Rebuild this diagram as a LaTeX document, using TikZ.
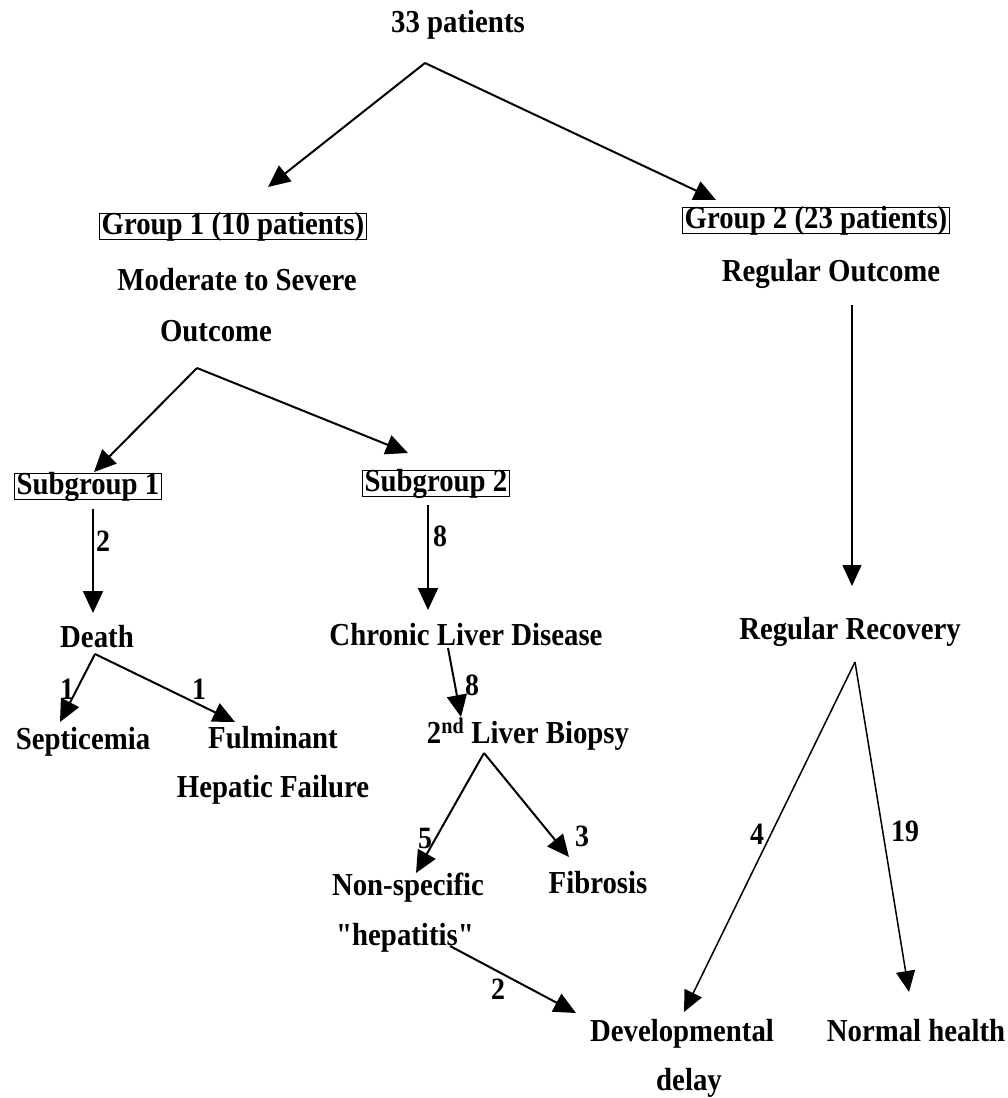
\documentclass[tikz,border=0pt]{standalone}
\usepackage{fontspec}
\setmainfont{Liberation Serif}[FakeStretch=0.9, Ligatures=TeXOff]
\usetikzlibrary{arrows.meta}
\begin{document}
\begin{tikzpicture}[x=1pt,y=-1pt,
  txt/.style={font=\fontsize{32}{34}\selectfont\bfseries, inner sep=0pt, anchor=base},
  boxed/.style={txt, draw, line width=1pt, inner xsep=2pt, inner ysep=1pt, text height=20pt, text depth=4pt, anchor=center},
  lbl/.style={font=\fontsize{31}{33}\selectfont\bfseries, inner sep=0pt},
  conn/.style={line width=2pt, -{Triangle[length=22pt,width=20pt]}},
  thin/.style={line width=1.5pt, -{Triangle[length=21pt,width=19pt]}}]
\useasboundingbox (0,0) rectangle (1007,1098);
% nodes
\node[txt] (top) at (458,32) {33 patients};
\node[boxed] (g1) at (233,226) {Group 1 (10 patients)};
\node[boxed] (g2) at (816,220) {Group 2 (23 patients)};
\node[txt] (mod) at (237,290) {Moderate to Severe};
\node[txt] (out1) at (216,341) {Outcome};
\node[txt] (reg) at (831,281) {Regular Outcome};
\node[boxed] (s1) at (88,486) {Subgroup 1};
\node[boxed] (s2) at (436,483) {Subgroup 2};
\node[txt] (death) at (97,647) {Death};
\node[txt] (cld) at (466,645) {Chronic Liver Disease};
\node[txt] (rr) at (850,639) {Regular Recovery};
\node[txt] (sep) at (83,749) {Septicemia};
\node[txt] (ful) at (273,748) {Fulminant};
\node[txt] (hep) at (273,797) {Hepatic Failure};
\node[txt] (bio) at (528,743) {2\textsuperscript{nd} Liver Biopsy};
\node[txt] (ns) at (408,895) {Non-specific};
\node[txt] (hepa) at (405,945) {"hepatitis"};
\node[txt] (fib) at (598,893) {Fibrosis};
\node[txt] (dev) at (682,1041) {Developmental};
\node[txt] (del) at (689,1090) {delay};
\node[txt] (nh) at (916,1041) {Normal health};
% coordinates
\coordinate (a0) at (425,63);
\coordinate (t1) at (268,187);
\coordinate (t2) at (716,200);
\coordinate (r0) at (852,305);
\coordinate (r1) at (852,586);
\coordinate (a1) at (197,368);
\coordinate (t3) at (94,472);
\coordinate (t4) at (408,453);
\coordinate (s1b) at (93,509);
\coordinate (t5) at (93,613);
\coordinate (s2b) at (428,505);
\coordinate (t6) at (428,610);
\coordinate (a2) at (95,654);
\coordinate (t7) at (60,722);
\coordinate (t8) at (235,722);
\coordinate (c0) at (448,648);
\coordinate (t9) at (461,717);
\coordinate (a3) at (484,753);
\coordinate (t10) at (416,873);
\coordinate (t11) at (569,857);
\coordinate (h0) at (450,946);
\coordinate (t12) at (576,1013);
\coordinate (a4) at (855,662);
\coordinate (t13) at (684,1012);
\coordinate (t14) at (909,992);
% connectors
\draw[conn] (a0) -- (t1);
\draw[conn] (a0) -- (t2);
\draw[thin] (r0) -- (r1);
\draw[conn] (a1) -- (t3);
\draw[conn] (a1) -- (t4);
\draw[conn] (s1b) -- (t5);
\draw[conn] (s2b) -- (t6);
\draw[conn] (a2) -- (t7);
\draw[conn] (a2) -- (t8);
\draw[conn] (c0) -- (t9);
\draw[conn] (a3) -- (t10);
\draw[conn] (a3) -- (t11);
\draw[conn] (h0) -- (t12);
\draw[thin] (a4) -- (t13);
\draw[thin] (a4) -- (t14);
% labels
\node[lbl] (l2) at (103,541) {2};
\node[lbl] (l8) at (440,536) {8};
\node[lbl] (l1a) at (67,689) {1};
\node[lbl] (l1b) at (199,689) {1};
\node[lbl] (l8b) at (472,685) {8};
\node[lbl] (l5) at (425,838) {5};
\node[lbl] (l3) at (582,836) {3};
\node[lbl] (l2b) at (498,989) {2};
\node[lbl] (l4) at (757,834) {4};
\node[lbl] (l19) at (905,831) {19};
\end{tikzpicture}
\end{document}
